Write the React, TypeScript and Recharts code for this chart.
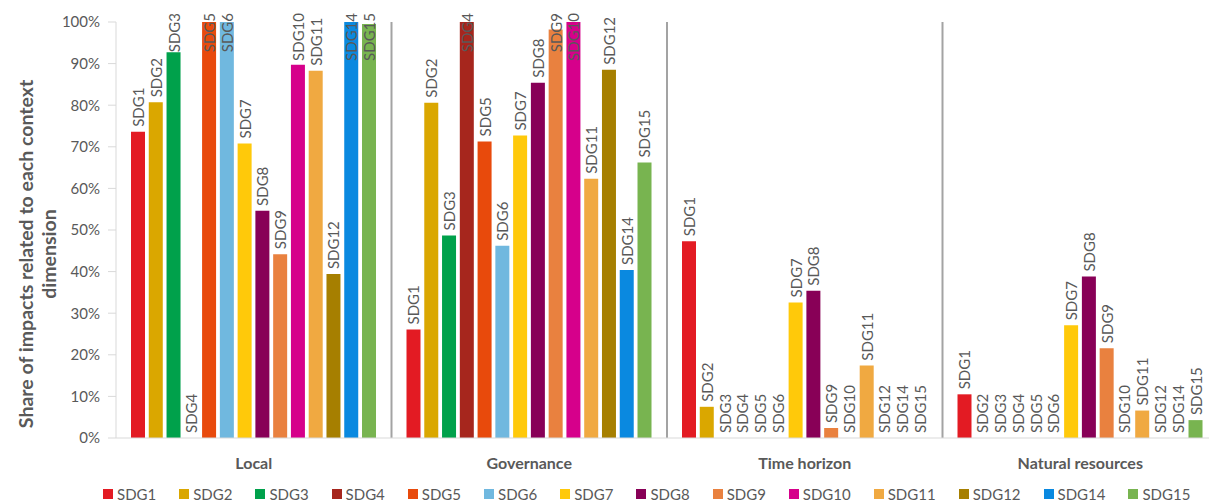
import React from 'react';
import { BarChart, Bar, XAxis, YAxis, ReferenceLine, Legend, LabelList, Label } from 'recharts';

const categories = ['Local', 'Governance', 'Time horizon', 'Natural resources'];
const sdgNames = ['SDG1', 'SDG2', 'SDG3', 'SDG4', 'SDG5', 'SDG6', 'SDG7', 'SDG8', 'SDG9', 'SDG10', 'SDG11', 'SDG12', 'SDG14', 'SDG15'];

// values in % per category: Local, Governance, Time horizon, Natural resources
const sdg1 = [73.6, 26.1, 47.3, 10.5];
const sdg2 = [80.7, 80.6, 7.5, 0];
const sdg3 = [92.7, 48.7, 0, 0];
const sdg4 = [0, 100, 0, 0];
const sdg5 = [100, 71.3, 0, 0];
const sdg6 = [100, 46.2, 0, 0];
const sdg7 = [70.8, 72.7, 32.6, 27.1];
const sdg8 = [54.6, 85.4, 35.4, 38.8];
const sdg9 = [44.2, 98.2, 2.4, 21.6];
const sdg10 = [89.7, 100, 0, 0];
const sdg11 = [88.3, 62.3, 17.4, 6.6];
const sdg12 = [39.4, 88.5, 0, 0];
const sdg14 = [100, 40.4, 0, 0];
const sdg15 = [99.5, 66.2, 0, 4.3];

const yTicks = [0, 10, 20, 30, 40, 50, 60, 70, 80, 90, 100];
// category boundaries drawn as separators (start of these bands)
const separatorCategories = ['Governance', 'Time horizon', 'Natural resources'];

const seriesValues = [sdg1, sdg2, sdg3, sdg4, sdg5, sdg6, sdg7, sdg8, sdg9, sdg10, sdg11, sdg12, sdg14, sdg15];
const colors = ['#E31B23', '#DAA700', '#00A14B', '#A6261D', '#E84A0C', '#70B8DF', '#FFC90A', '#880057', '#E9813F', '#D6008B', '#F0A941', '#A67F00', '#0A89E0', '#78B450'];

const data = categories.map((c, i) => {
  const row: any = { category: c };
  sdgNames.forEach((n, j) => {
    row[n] = seriesValues[j][i];
  });
  return row;
});

const TEXT = '#595959';
const FONT = 'Lato, "Open Sans", sans-serif';

const makeLabel = (name: string) => (props: any) => {
  const x = Number(props.x);
  const y = Number(props.y);
  const w = Number(props.width);
  const h = Number(props.height) || 0;
  const cx = x + w / 2;
  const est = name.length * 9.75;
  const top = h < 0 ? y + h : y;
  const start = top - 5;
  const clamp = start - est < 13;
  const ty = clamp ? 13 : start;
  return (
    <text
      x={cx}
      y={ty}
      transform={`rotate(-90, ${cx}, ${ty})`}
      textAnchor={clamp ? 'end' : 'start'}
      dominantBaseline="central"
      fill={TEXT}
      fontSize={15}
      fontFamily={FONT}
    >
      {name}
    </text>
  );
};

const CategoryTick = (props: any) => {
  const { x, y, payload } = props;
  return (
    <text x={x} y={y} dy={23} textAnchor="middle" fill={TEXT} fontSize={16} fontWeight={700} fontFamily={FONT}>
      {payload.value}
    </text>
  );
};

const YLabel = () => {
  const cx = 25;
  const cy = 254;
  return (
    <g transform={`translate(${cx}, ${cy}) rotate(-90)`}>
      <text x={0} y={0} textAnchor="middle" dominantBaseline="central" fill={TEXT} fontSize={19.5} fontWeight={700} fontFamily={FONT}>
        Share of impacts related to each context
      </text>
      <text x={0} y={23} textAnchor="middle" dominantBaseline="central" fill={TEXT} fontSize={19.5} fontWeight={700} fontFamily={FONT}>
        dimension
      </text>
    </g>
  );
};

const LegendContent = () => (
  <div
    style={{
      display: 'flex',
      alignItems: 'center',
      height: 20,
      paddingLeft: 103,
      fontFamily: FONT,
      fontSize: 15,
      color: TEXT,
      whiteSpace: 'nowrap',
    }}
  >
    {sdgNames.map((n, i) => (
      <div key={n} style={{ display: 'flex', alignItems: 'center', marginRight: 23, flexShrink: 0 }}>
        <span style={{ display: 'inline-block', width: 10, height: 10, background: colors[i], marginRight: 4 }} />
        <span>{n}</span>
      </div>
    ))}
  </div>
);

const zeroMin = (value: any) => (Number(value) === 0 ? 0.01 : 0);

export default function App() {
  return (
    <div style={{ position: 'fixed', left: 0, top: 0, width: 1209, height: 504, overflow: 'hidden', background: '#fff' }}>
      <BarChart
        width={1230}
        height={504}
        data={data}
        margin={{ top: 22, right: 12, left: 0, bottom: 16 }}
        barCategoryGap={15}
        barGap={3.77}
      >
        <XAxis
          dataKey="category"
          interval={0}
          height={30}
          tickLine={false}
          axisLine={{ stroke: '#d9d9d9' }}
          tick={<CategoryTick />}
        />
        <YAxis
          width={116}
          domain={[0, 100]}
          ticks={yTicks}
          interval={0}
          tickFormatter={(v: number) => `${v}%`}
          tick={{ fill: TEXT, fontSize: 15, fontFamily: FONT }}
          tickLine={{ stroke: '#d9d9d9' }}
          tickSize={8}
          tickMargin={8}
          axisLine={{ stroke: '#d9d9d9' }}
        >
          <Label content={YLabel} />
        </YAxis>
        {separatorCategories.map((c) => (
          <ReferenceLine key={c} x={c} position="start" stroke="#a3a3a3" strokeWidth={2} />
        ))}
        {sdgNames.map((n, i) => (
          <Bar key={n} dataKey={n} fill={colors[i]} isAnimationActive={false} minPointSize={zeroMin}>
            <LabelList dataKey={n} content={makeLabel(n)} />
          </Bar>
        ))}
        <Legend
          verticalAlign="bottom"
          align="left"
          content={LegendContent}
          wrapperStyle={{ bottom: 0, left: 0, width: 1230, height: 20 }}
        />
      </BarChart>
    </div>
  );
}
